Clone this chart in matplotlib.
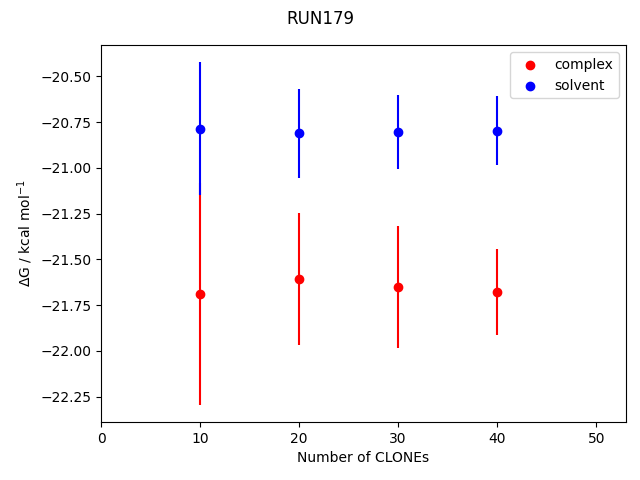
import matplotlib
matplotlib.use("Agg")
import matplotlib.pyplot as plt

clones = [10, 20, 30, 40]
complex_dg = [-21.688, -21.606, -21.651, -21.676]
complex_err = [0.607, 0.360, 0.332, 0.235]
solvent_dg = [-20.786, -20.811, -20.806, -20.796]
solvent_err = [0.363, 0.242, 0.202, 0.186]

fig, ax = plt.subplots(figsize=(6.4, 4.8), dpi=100)
ax.errorbar(clones, complex_dg, yerr=complex_err, fmt='none', ecolor='red', elinewidth=1.5)
ax.scatter(clones, complex_dg, color='red', label='complex', zorder=3)
ax.errorbar(clones, solvent_dg, yerr=solvent_err, fmt='none', ecolor='blue', elinewidth=1.5)
ax.scatter(clones, solvent_dg, color='blue', label='solvent', zorder=3)
ax.set_xlim(0, 53)
ax.set_xlabel('Number of CLONEs')
ax.set_ylabel(r'$\Delta$G / kcal mol$^{-1}$')
ax.legend(loc='upper right')
fig.suptitle('RUN179')
fig.subplots_adjust(left=0.158, right=0.978, bottom=0.121, top=0.906)
fig.savefig('out.png', dpi=100)
